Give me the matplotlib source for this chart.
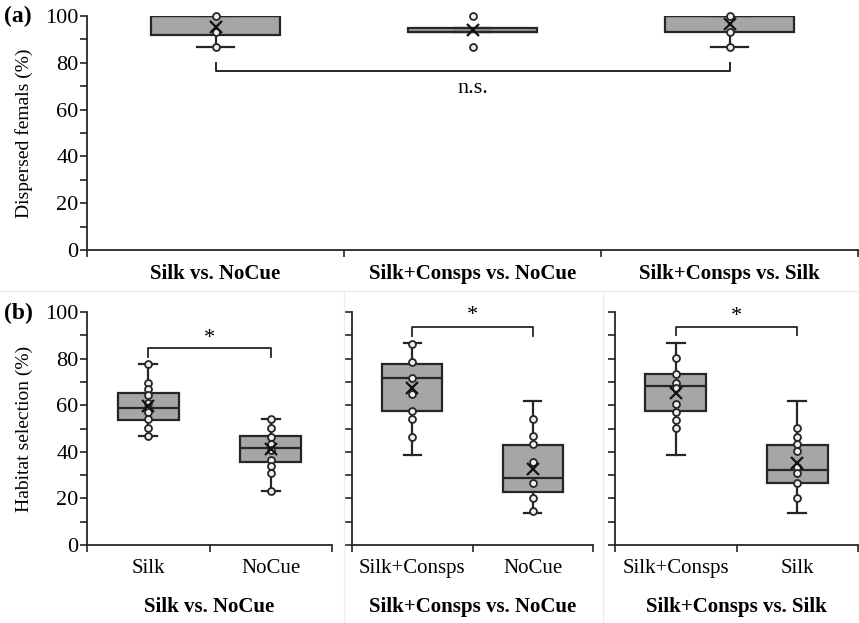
import matplotlib
matplotlib.use('Agg')
import matplotlib.pyplot as plt
from matplotlib.lines import Line2D

plt.rcParams['font.family'] = ['Liberation Serif', 'DejaVu Serif']
plt.rcParams['font.size'] = 15

# panel (a): dispersed females per comparison
a_groups = ['Silk vs. NoCue', 'Silk+Consps vs. NoCue', 'Silk+Consps vs. Silk']
a_q1 = [91.7, 93.3, 93.3]
a_med = [100, 93.3, 100]
a_q3 = [100, 95.0, 100]
a_lo = [86.7, 93.3, 86.7]
a_hi = [100, 95.0, 100]
a_mean = [95.3, 94.0, 96.5]
a_points = [[100, 93.3, 86.7], [100, 86.7], [100, 93.3, 86.7]]

# panel (b): habitat selection, one subplot per comparison
b_titles = ['Silk vs. NoCue', 'Silk+Consps vs. NoCue', 'Silk+Consps vs. Silk']
b_cats = [['Silk', 'NoCue'], ['Silk+Consps', 'NoCue'], ['Silk+Consps', 'Silk']]
b_q1 = [[53.6, 35.5], [57.5, 22.9], [57.5, 26.7]]
b_med = [[58.8, 41.8], [71.5, 28.6], [68.2, 32.2]]
b_q3 = [[65.4, 46.9], [77.5, 42.9], [73.4, 42.9]]
b_lo = [[46.8, 23.2], [38.6, 13.6], [38.6, 13.6]]
b_hi = [[77.5, 53.9], [86.8, 61.9], [86.8, 61.8]]
b_mean = [[59.5, 41.0], [67.5, 32.5], [65.4, 35.0]]
b_points = [
    [[77.5, 69.7, 66.8, 64.4, 60.8, 58.7, 57.2, 53.9, 50.3, 46.8],
     [53.9, 50.3, 46.5, 43.2, 40.8, 36.5, 33.9, 31.0, 23.2]],
    [[86.1, 78.7, 71.5, 64.7, 57.5, 53.9, 46.5],
     [54.1, 46.8, 43.2, 35.8, 26.8, 20.0, 14.6]],
    [[80.1, 73.4, 69.4, 67.2, 60.5, 57.2, 53.6, 50.3],
     [50.3, 46.5, 43.2, 40.3, 33.6, 31.0, 26.7, 20.3]],
]
# significance brackets: (bar height, leg end, label height, label)
b_sig = [(84.4, 80.5, 88.7, '*'), (93.4, 89.7, 98.7, '*'), (93.7, 90.0, 98.0, '*')]

edge = '#262626'
box_fill = '#a6a6a6'


def draw_boxes(ax, q1, med, q3, lo, hi, mean, points):
    stats = []
    for i in range(len(q1)):
        stats.append({'q1': q1[i], 'med': med[i], 'q3': q3[i],
                      'whislo': lo[i], 'whishi': hi[i], 'mean': mean[i], 'fliers': []})
    pos = list(range(1, len(q1) + 1))
    ax.bxp(stats, positions=pos, widths=0.5, capwidths=0.145, patch_artist=True,
           showmeans=False, showfliers=False,
           boxprops=dict(facecolor=box_fill, edgecolor=edge, linewidth=1.6),
           medianprops=dict(color=edge, linewidth=1.6),
           whiskerprops=dict(color=edge, linewidth=1.6),
           capprops=dict(color=edge, linewidth=1.6))
    for i, pts in enumerate(points):
        ax.plot([pos[i]] * len(pts), pts, 'o', ms=5, mfc='#eeeeee', mec=edge,
                mew=1.3, clip_on=False, zorder=4)
        ax.plot(pos[i], mean[i], 'x', ms=9, color='#111111', mew=1.6, zorder=5)


def style_axis(ax, ncat, show_ylabels=True):
    ax.set_ylim(0, 100)
    ax.set_xlim(0.5, ncat + 0.5)
    for s in ['top', 'right']:
        ax.spines[s].set_visible(False)
    for s in ['left', 'bottom']:
        ax.spines[s].set_linewidth(1.3)
        ax.spines[s].set_color(edge)
    ax.set_yticks(range(0, 101, 20))
    ax.set_yticks(range(10, 100, 20), minor=True)
    if not show_ylabels:
        ax.set_yticklabels([])
    ax.tick_params(axis='y', which='both', length=5, width=1.2, color=edge, pad=1,
                   labelsize=16)
    ax.set_xticks([k + 0.5 for k in range(ncat + 1)])
    ax.set_xticklabels([])
    ax.tick_params(axis='x', which='major', length=5, width=1.2, color=edge)


fig = plt.figure(figsize=(8.59, 6.23), dpi=100)

# faint panel borders
for xf in [344 / 859, 603 / 859]:
    fig.add_artist(Line2D([xf, xf], [0, 1 - 291 / 623], color='#ededed', lw=1))
fig.add_artist(Line2D([0, 1], [1 - 291 / 623] * 2, color='#ededed', lw=1))

# ---- panel (a)
ax_a = fig.add_axes([87 / 859, 1 - 250 / 623, 771 / 859, 234 / 623])
draw_boxes(ax_a, a_q1, a_med, a_q3, a_lo, a_hi, a_mean, a_points)
style_axis(ax_a, 3)
ax_a.set_xticks([1, 2, 3], minor=True)
ax_a.set_xticklabels(a_groups, minor=True, fontweight='bold', fontsize=15)
ax_a.tick_params(axis='x', which='minor', length=0, pad=10)
ax_a.set_ylabel('Dispersed femals (%)', fontsize=14, labelpad=9)
ax_a.plot([1, 1, 3, 3], [79.8, 76.5, 76.5, 79.8], color=edge, lw=1.4)
ax_a.text(2, 69.2, 'n.s.', ha='center', va='center', fontsize=16)
fig.text(4 / 859, 1 - 16 / 623, '(a)', fontweight='bold', fontsize=17, va='center')

# ---- panel (b)
b_left = [87, 352, 615]
b_width = [245, 241, 243]
for k in range(3):
    ax = fig.add_axes([b_left[k] / 859, 1 - 545 / 623, b_width[k] / 859, 233 / 623])
    draw_boxes(ax, b_q1[k], b_med[k], b_q3[k], b_lo[k], b_hi[k], b_mean[k], b_points[k])
    style_axis(ax, 2, show_ylabels=(k == 0))
    ax.set_xticks([1, 2], minor=True)
    ax.set_xticklabels(b_cats[k], minor=True, fontsize=15)
    ax.tick_params(axis='x', which='minor', length=0, pad=10)
    ax.set_xlabel(b_titles[k], fontweight='bold', fontsize=15, labelpad=14)
    bar, leg, ty, lab = b_sig[k]
    ax.plot([1, 1, 2, 2], [leg, bar, bar, leg], color=edge, lw=1.3)
    ax.text(1.5, ty, lab, ha='center', va='center', fontsize=16)
    if k == 0:
        ax.set_ylabel('Habitat selection (%)', fontsize=14, labelpad=9)
fig.text(4 / 859, 1 - 313 / 623, '(b)', fontweight='bold', fontsize=17, va='center')

fig.savefig('out.png', dpi=100)
